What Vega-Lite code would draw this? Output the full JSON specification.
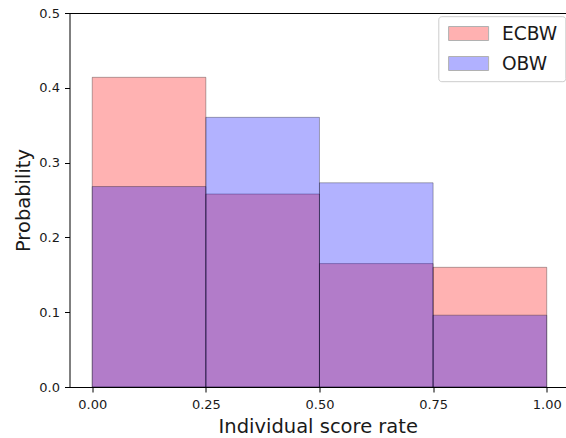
{
  "$schema": "https://vega.github.io/schema/vega-lite/v6.json",
  "width": 496.5,
  "height": 374,
  "autosize": {"type": "none"},
  "padding": {"left": 69.5, "top": 13, "right": 0, "bottom": 51},
  "background": "white",
  "config": {
    "view": {"stroke": null},
    "font": "DejaVu Sans",
    "axis": {
      "grid": false,
      "domainColor": "black",
      "domainWidth": 1,
      "tickColor": "black",
      "tickSize": 5,
      "labelFont": "DejaVu Sans",
      "labelFontSize": 13,
      "labelColor": "#1a1a1a",
      "titleFont": "DejaVu Sans",
      "titleFontSize": 19.5,
      "titleFontWeight": "normal",
      "titleColor": "#1a1a1a"
    }
  },
  "data": {
    "values": [
      {"group": "ECBW", "x0": 0.0, "x1": 0.25, "p": 0.414},
      {"group": "ECBW", "x0": 0.25, "x1": 0.5, "p": 0.258},
      {"group": "ECBW", "x0": 0.5, "x1": 0.75, "p": 0.165},
      {"group": "ECBW", "x0": 0.75, "x1": 1.0, "p": 0.160},
      {"group": "OBW", "x0": 0.0, "x1": 0.25, "p": 0.268},
      {"group": "OBW", "x0": 0.25, "x1": 0.5, "p": 0.3605},
      {"group": "OBW", "x0": 0.5, "x1": 0.75, "p": 0.273},
      {"group": "OBW", "x0": 0.75, "x1": 1.0, "p": 0.096}
    ]
  },
  "layer": [
    {
      "mark": {"type": "bar", "fillOpacity": 0.3, "stroke": "black", "strokeOpacity": 0.3, "strokeWidth": 1},
      "encoding": {
        "x": {
          "field": "x0", "type": "quantitative",
          "scale": {"domain": [-0.05, 1.0424], "nice": false, "zero": false},
          "axis": {"values": [0, 0.25, 0.5, 0.75, 1.0], "format": ".2f", "labelPadding": 6, "title": "Individual score rate", "titlePadding": 6, "labelFlush": false}
        },
        "x2": {"field": "x1"},
        "y": {
          "field": "p", "type": "quantitative", "stack": null,
          "scale": {"domain": [0, 0.5], "nice": false, "padding": 0},
          "axis": {"values": [0, 0.1, 0.2, 0.3, 0.4, 0.5], "format": ".1f", "labelPadding": 5, "title": "Probability", "titlePadding": 5, "labelFlush": false}
        },
        "y2": {"datum": 0},
        "color": {
          "field": "group", "type": "nominal",
          "scale": {"domain": ["ECBW", "OBW"], "range": ["#ff0000", "#0000ff"]},
          "legend": {
            "title": null,
            "orient": "none",
            "legendX": 368.8,
            "legendY": 3.2,
            "symbolType": "M-1,-1H4.714V1H-1Z",
            "symbolSize": 196,
            "symbolOpacity": 0.3,
            "symbolStrokeColor": "black",
            "symbolStrokeWidth": 1,
            "labelFont": "DejaVu Sans",
            "labelFontSize": 18.6,
            "labelColor": "#1a1a1a",
            "labelOffset": 37,
            "rowPadding": 11,
            "padding": 8,
            "strokeColor": "#cccccc",
            "fillColor": "rgba(255,255,255,0.8)",
            "cornerRadius": 3
          }
        }
      }
    },
    {
      "mark": {"type": "bar", "opacity": 0},
      "encoding": {
        "x": {
          "field": "x0", "type": "quantitative",
          "axis": {"orient": "top", "labels": false, "ticks": false, "domain": true, "title": null}
        },
        "x2": {"field": "x1"},
        "y": {"field": "p", "type": "quantitative", "stack": null},
        "y2": {"datum": 0}
      }
    }
  ],
  "resolve": {"axis": {"x": "independent"}}
}
